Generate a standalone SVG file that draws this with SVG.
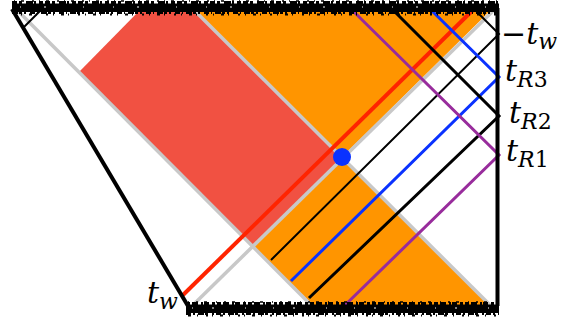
<svg xmlns="http://www.w3.org/2000/svg" width="561" height="325" viewBox="0 0 561 325">
<style>
.gray{stroke:#c8c8c8;stroke-width:3.5;fill:none;stroke-linecap:butt}
.edge{stroke:#000;stroke-width:4;fill:none}
.ray{fill:none;stroke-linejoin:miter;stroke-linecap:butt}
.thin{stroke:#000;stroke-width:2}
.blk{stroke:#000;stroke-width:3}
.blue{stroke:#0a32ff;stroke-width:3}
.purple{stroke:#982c9c;stroke-width:3}
.red{stroke:#ff2400;stroke-width:4}
.sing line{stroke:#000;fill:none}
.sing .sp{stroke:#fff;stroke-width:1}
.lbl{font-family:"DejaVu Serif","Liberation Serif",serif;font-style:italic;font-size:30px;fill:#000}
.sub{font-size:22px}
.up{font-style:normal}
</style>
<g id="regions">
<polygon points="79,72 139,11 196,11 342,157 253,247" fill="#f15142"/>
<polygon points="196,11 342,157 490,11" fill="#ff9500"/>
<polygon points="253,247 342,157 489,305 313,305" fill="#ff9500"/>
</g>
<g id="horizons">
<line class="gray" x1="17" y1="10" x2="311" y2="305"/>
<line class="gray" x1="194" y1="10" x2="491" y2="306"/>
<line class="gray" x1="193" y1="305" x2="494" y2="10"/>
</g>
<g id="connectors">
<polyline class="ray thin" points="23,28 41,10"/>
<polyline class="ray red" points="183,295 475,8"/>
<polyline class="ray thin" points="473,8 499,34 271,260"/>
<polyline class="ray blue" points="427,6 499,77 291,281"/>
<polyline class="ray blk" points="392,9 499,116 309,298"/>
<polyline class="ray purple" points="349,7 499,155 340,310"/>
</g>
<g id="boundaries">
<line class="edge" x1="12" y1="9" x2="188" y2="306"/>
<line class="edge" x1="497.5" y1="8" x2="497.5" y2="306"/>
</g>
<g id="top-singularity" class="sing">
<rect x="12" y="3.5" width="487" height="8.5" fill="#000"/>
<line x1="12" y1="2.5" x2="499" y2="2.5" stroke-width="3" stroke-dasharray="5 2 3 4 7 1 2 3 4 2"/>
<line x1="12" y1="12.5" x2="499" y2="12.5" stroke-width="3" stroke-dasharray="6 1 3 2 2 4 5 2 1 3"/>
<line x1="14" y1="14.5" x2="497" y2="14.5" stroke-width="2" stroke-dasharray="2 5 1 7 3 4 1 9"/>
<line x1="14" y1="1" x2="497" y2="1" stroke-width="1.5" stroke-dasharray="1 6 3 8 2 5"/>
<line class="sp" x1="20" y1="7" x2="495" y2="7" stroke-dasharray="1 23 2 37 1 29"/>
</g>
<g id="bottom-singularity" class="sing">
<rect x="186" y="304.5" width="313" height="8.5" fill="#000"/>
<line x1="186" y1="303.5" x2="499" y2="303.5" stroke-width="3" stroke-dasharray="4 2 6 3 2 1 5 3 3 2"/>
<line x1="186" y1="313.5" x2="499" y2="313.5" stroke-width="3" stroke-dasharray="5 2 2 3 6 1 3 4 2 2"/>
<line x1="188" y1="315.5" x2="497" y2="315.5" stroke-width="2" stroke-dasharray="3 6 1 8 2 4 1 7"/>
<line x1="188" y1="302" x2="497" y2="302" stroke-width="1.5" stroke-dasharray="1 7 2 6 3 9"/>
<line class="sp" x1="192" y1="308" x2="495" y2="308" stroke-dasharray="1 19 2 31 1 27"/>
</g>
<g id="point">
<circle cx="342" cy="157" r="9" fill="#0a32ff"/>
</g>
<g id="label-mtw"><text class="lbl" x="501" y="44"><tspan class="up">−</tspan>t<tspan class="sub" dy="5">w</tspan></text></g>
<g id="label-tR3"><text class="lbl" x="505" y="81">t<tspan class="sub" dy="6">R</tspan><tspan class="sub up">3</tspan></text></g>
<g id="label-tR2"><text class="lbl" x="509" y="123">t<tspan class="sub" dy="6">R</tspan><tspan class="sub up">2</tspan></text></g>
<g id="label-tR1"><text class="lbl" x="506" y="161">t<tspan class="sub" dy="6">R</tspan><tspan class="sub up">1</tspan></text></g>
<g id="label-tw"><text class="lbl" x="147" y="303">t<tspan class="sub" dy="6">w</tspan></text></g>
</svg>
